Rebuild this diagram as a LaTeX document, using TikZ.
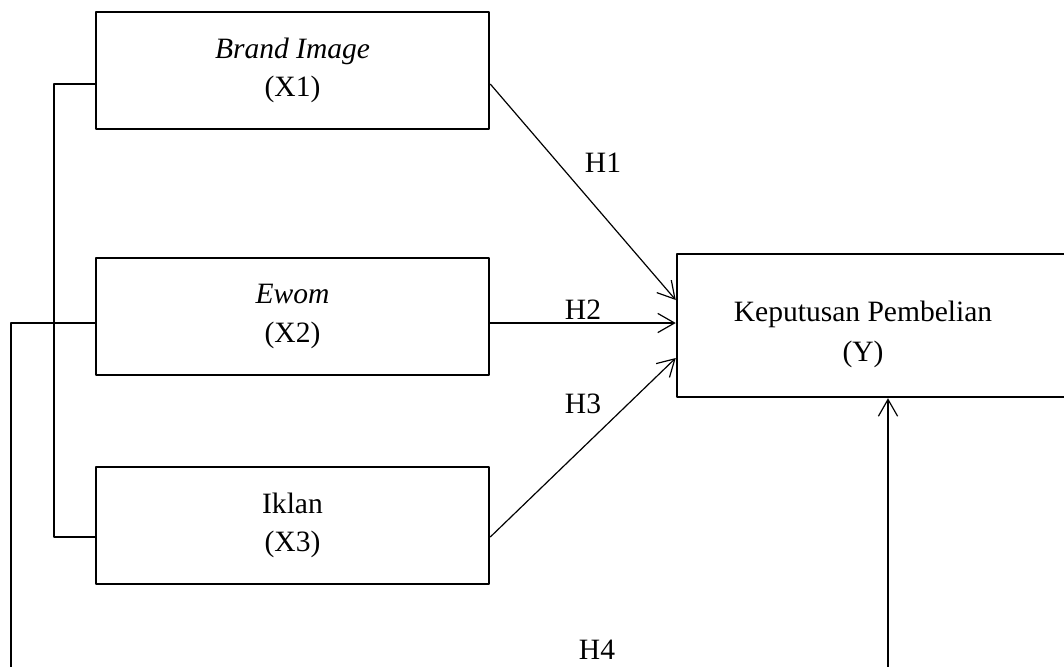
\documentclass[tikz,border=0pt]{standalone}
\usepackage{fontspec}
\setmainfont{Liberation Serif}
\usetikzlibrary{arrows.meta}

\begin{document}
\begin{tikzpicture}[x=0.025cm,y=-0.025cm,>={Straight Barb[length=0.42cm,width=0.48cm]},line join=round,
  varbox/.style={draw,line width=1.7pt,minimum width=9.825cm,minimum height=2.925cm,align=center,
    font=\fontsize{21}{27.5}\selectfont},
  link/.style={line width=1.2pt},
  hyp/.style={->,line width=0.85pt},
  hlabel/.style={font=\fontsize{21}{25}\selectfont}]
  \useasboundingbox (0,0) rectangle (1064,666);
  \clip (0,0) rectangle (1064,666);

  \node[varbox] (x1) at (292.5,70.5) {\textit{Brand Image}\\(X1)};
  \node[varbox] (x2) at (292.5,316.5) {\textit{Ewom}\\(X2)};
  \node[varbox] (x3) at (292.5,525.5) {Iklan\\(X3)};
  \node[varbox,minimum width=10.175cm,minimum height=3.575cm,font=\fontsize{21}{28}\selectfont] (y) at (880.5,325.5)
    {\raisebox{-0.2cm}[\height][\depth]{\begin{tabular}{@{}c@{}}Keputusan Pembelian\\(Y)\end{tabular}}\hspace*{0.875cm}};

  \coordinate (b2) at (11,680);
  \coordinate (b4) at (888,680);

  \draw[link] (x1.west |- 0,84) -| (54,537) -- (x3.west |- 0,537);
  \draw[link] (x2.west |- 0,323) -| (b2);

  \draw[hyp] (x1.east |- 0,84) -- (y.west |- 0,300);
  \draw[hyp] (x2.east |- 0,323) -- (y.west |- 0,323);
  \draw[hyp] (x3.east |- 0,537) -- (y.west |- 0,358);
  \draw[hyp] (b4) -- (y.south -| 888,0);

  \node[hlabel] (h1) at (603,163) {H1};
  \node[hlabel] (h2) at (583,310) {H2};
  \node[hlabel] (h3) at (583,404) {H3};
  \node[hlabel] (h4) at (597,650) {H4};
\end{tikzpicture}
\end{document}
